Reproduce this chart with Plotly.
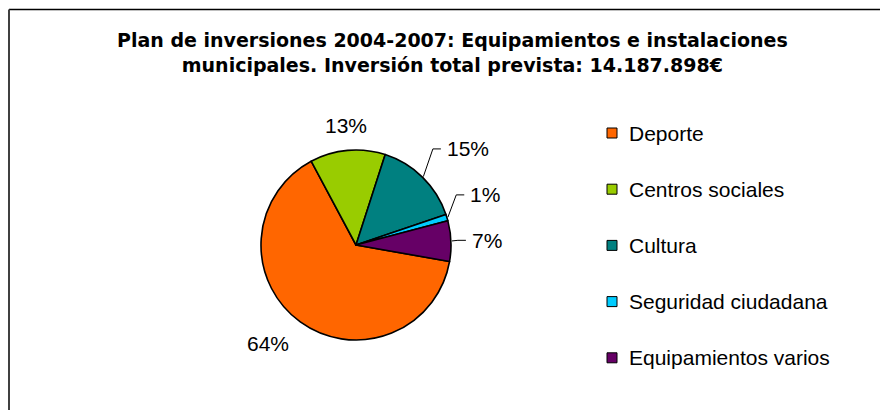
import math
import plotly.graph_objects as go

# ---------------- data ----------------
categories = ["Deporte", "Centros sociales", "Cultura", "Seguridad ciudadana", "Equipamientos varios"]
values = [64.4, 12.8, 14.8, 1.1, 6.9]          # share of total investment (%)
colors = ["#FF6600", "#99CC00", "#008080", "#00CCFF", "#660066"]
title_lines = ["Plan de inversiones 2004-2007: Equipamientos e instalaciones",
               "municipales. Inversión total prevista: 14.187.898€"]

# ---------------- layout constants ----------------
W, H = 880, 410
CX, CY, R = 356, 245, 95
ROT = 100
LABEL_GAP = 16
PAD_Y = 5
label_shift = [(0, 0), (0, 0), (11, -17), (6, -18), (3, 0)]
show_leader = [False, False, True, True, True]
FONT = "Liberation Sans, Arial, sans-serif"
TITLE_FONT = "DejaVu Sans, sans-serif"
LEG_X_SQ, LEG_X_TXT, LEG_Y0, LEG_DY, SQ = 612, 627, 133, 56.2, 10


def fx(x):
    return x / W


def fy(y):
    return 1 - y / H


fig = go.Figure(go.Pie(
    labels=categories, values=values, sort=False, direction="clockwise",
    rotation=ROT, textinfo="none", hoverinfo="label+percent",
    marker=dict(colors=colors, line=dict(color="black", width=1.6)),
    domain=dict(x=[fx(CX - R), fx(CX + R)], y=[fy(CY + R), fy(CY - R)]),
    showlegend=False,
))

annotations = []
shapes = []
total = sum(values)
cum = 0
for i, v in enumerate(values):
    mid = math.radians(ROT + (cum + v / 2) / total * 360)
    cum += v
    s, c = math.sin(mid), math.cos(mid)
    ax = CX + (R + LABEL_GAP) * s + label_shift[i][0]
    ay = CY - (R + LABEL_GAP) * c + label_shift[i][1]
    txt = f"{round(v / total * 100)}%"
    if show_leader[i]:
        xa, ya = "left", "middle"
        sx, sy = CX + (R + 1) * s, CY - (R + 1) * c
        path = f"M {fx(sx)} {fy(sy)} L {fx(ax - 12)} {fy(ay)} L {fx(ax - 4)} {fy(ay)}"
        shapes.append(dict(type="path", xref="paper", yref="paper", path=path,
                           line=dict(color="black", width=1)))
    else:
        xa = "left" if s > 0.3 else ("right" if s < -0.3 else "center")
        ya = "bottom" if c > 0.3 else ("top" if c < -0.3 else "middle")
        if ya == "top":
            ay -= PAD_Y
        elif ya == "bottom":
            ay += PAD_Y
    annotations.append(dict(x=fx(ax), y=fy(ay), xref="paper", yref="paper", text=txt,
                            showarrow=False, xanchor=xa, yanchor=ya,
                            font=dict(family=FONT, size=21, color="black")))

# manual legend
for i, (cat, col) in enumerate(zip(categories, colors)):
    yc = LEG_Y0 + i * LEG_DY
    shapes.append(dict(type="rect", xref="paper", yref="paper",
                       x0=fx(LEG_X_SQ - SQ / 2), x1=fx(LEG_X_SQ + SQ / 2),
                       y0=fy(yc + SQ / 2), y1=fy(yc - SQ / 2),
                       fillcolor=col, line=dict(color="black", width=1)))
    annotations.append(dict(x=fx(LEG_X_TXT), y=fy(yc), xref="paper", yref="paper", text=cat,
                            showarrow=False, xanchor="left", yanchor="middle",
                            font=dict(family=FONT, size=21, color="black")))

# title
annotations.append(dict(x=fx(452), y=fy(52), xref="paper", yref="paper",
                        text="<b>" + "<br>".join(title_lines) + "</b>",
                        showarrow=False, xanchor="center", yanchor="middle",
                        font=dict(family=TITLE_FONT, size=19, color="black")))

# chart frame (extends past right and bottom edge of the view)
shapes.append(dict(type="line", xref="paper", yref="paper", x0=fx(9), x1=1.02,
                   y0=fy(9.5), y1=fy(9.5), line=dict(color="black", width=1.5)))
shapes.append(dict(type="line", xref="paper", yref="paper", x0=fx(9), x1=fx(9),
                   y0=fy(9.5), y1=-0.02, line=dict(color="#404040", width=2)))

fig.update_layout(
    width=W, height=H, margin=dict(l=0, r=0, t=0, b=0),
    paper_bgcolor="white", plot_bgcolor="white",
    annotations=annotations, shapes=shapes,
)

fig.write_html("out.html", config={"displayModeBar": False},
               post_script="document.body.style.margin='0';document.body.style.overflow='hidden';")
